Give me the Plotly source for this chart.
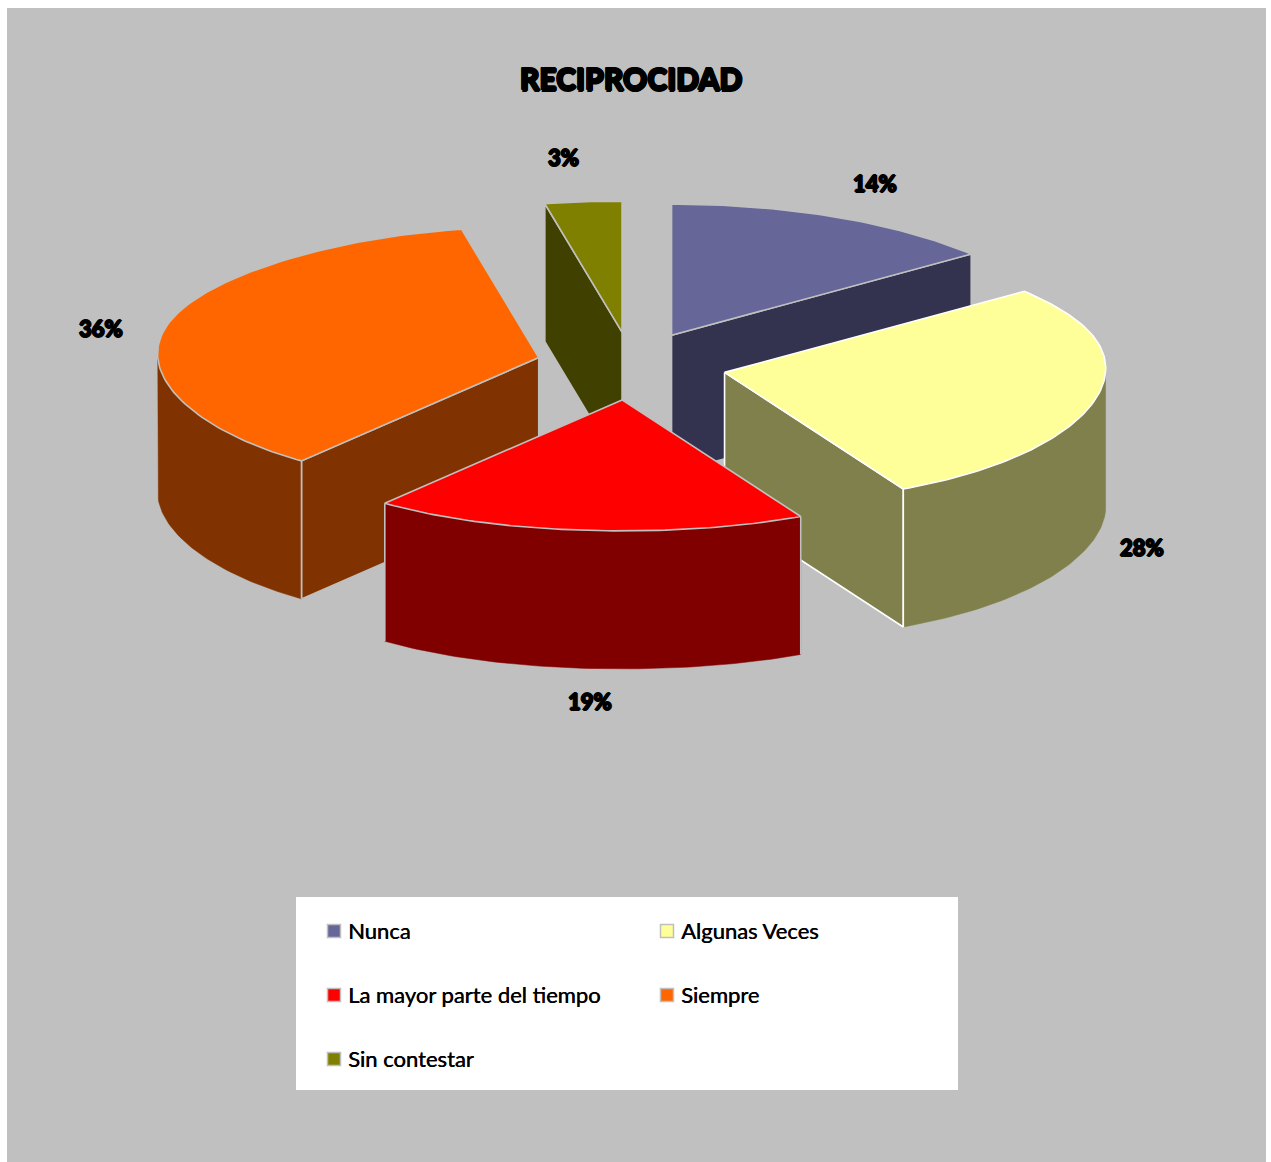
import math
import plotly.graph_objects as go

# Survey shares and their presentation
categories = ["Nunca", "Algunas Veces", "La mayor parte del tiempo", "Siempre", "Sin contestar"]
shares = [14, 28, 19, 36, 3]
top_colors = ["#666699", "#FFFF99", "#FF0000", "#FF6600", "#808000"]
face_colors = ["#333350", "#80804D", "#800000", "#803300", "#404000"]
edge_colors = ["#C0C0C0", "#FFFFFF", "#C0C0C0", "#C0C0C0", "#C0C0C0"]
title_text = "RECIPROCIDAD"

# Projection of the extruded pie, in page pixels
CX, CY = 631, 366
RX, RY = 381, 131
PERSPECTIVE = 0.03
FAR_FLARE = 0.06
SHOULDER_DROP = 2.5
EXPLODE_X, EXPLODE_Y = 0.25, 0.26
DEPTH = 138
DRAW_ORDER = [0, 4, 3, 1, 2]

# Where the percentage labels and legend rows sit
label_xy = [(875, 183), (1142, 547), (590, 701), (101, 328), (563, 157)]
legend_xy = [(334, 931), (667, 931), (334, 995), (667, 995), (334, 1059)]

PCT_FONT = dict(family="Lato", size=22, color="black", weight=900,
                shadow="1px 0 0 #000, -1px 0 0 #000, 0 1px 0 #000, 0 -1px 0 #000")
LEGEND_FONT = dict(family="Lato", size=22, color="black", shadow="0.4px 0 0 #000")


def rim(cx, cy, deg):
    a = math.radians(deg)
    c, s = math.cos(a), math.sin(a)
    rx = RX * (1 + PERSPECTIVE * c + FAR_FLARE * max(0.0, c) ** 8)
    return cx + rx * s, cy - RY * c + SHOULDER_DROP * (2 * s * c) ** 2


def arc(cx, cy, a0, a1, step=1.0):
    n = max(2, int(abs(a1 - a0) / step))
    return [rim(cx, cy, a0 + (a1 - a0) * i / n) for i in range(n + 1)]


def polygon(points, fill, edge=None, width=1.6):
    xs = [p[0] for p in points] + [points[0][0]]
    ys = [p[1] for p in points] + [points[0][1]]
    return go.Scatter(
        x=xs, y=ys, mode="lines", fill="toself", fillcolor=fill,
        line=dict(color=edge or fill, width=width if edge else 0.5),
        hoverinfo="skip", showlegend=False,
    )


def edge_line(p, color):
    return go.Scatter(
        x=[p[0], p[0]], y=[p[1], p[1] + DEPTH], mode="lines",
        line=dict(color=color, width=1.6), hoverinfo="skip", showlegend=False,
    )


# Cumulative slice angles, clockwise from twelve o'clock
total = sum(shares)
starts, ends, running = [], [], 0.0
for v in shares:
    starts.append(running * 360 / total)
    running += v
    ends.append(running * 360 / total)

fig = go.Figure()

for i in DRAW_ORDER:
    a0, a1 = starts[i], ends[i]
    mid = math.radians((a0 + a1) / 2)
    ax = CX + EXPLODE_X * RX * math.sin(mid)
    ay = CY - EXPLODE_Y * RY * math.cos(mid)
    face, top, edge = face_colors[i], top_colors[i], edge_colors[i]

    # radial faces turned toward the viewer
    for angle, visible in ((a0, 180 < a0 < 360), (a1, 0 < a1 < 180)):
        if visible:
            r = rim(ax, ay, angle)
            fig.add_trace(polygon([(ax, ay), r, (r[0], r[1] + DEPTH), (ax, ay + DEPTH)], face, edge))

    # outer wall on the near half of the rim
    w0, w1 = max(a0, 90), min(a1, 270)
    if w0 < w1:
        upper = arc(ax, ay, w0, w1)
        lower = [(x, y + DEPTH) for x, y in reversed(upper)]
        fig.add_trace(polygon(upper + lower, face))
        for angle in (a0, a1):
            if 90 < angle < 270:
                fig.add_trace(edge_line(rim(ax, ay, angle), edge))

    # top surface
    fig.add_trace(polygon([(ax, ay)] + arc(ax, ay, a0, a1), top, edge))

# Legend swatches
fig.add_trace(go.Scatter(
    x=[p[0] for p in legend_xy], y=[p[1] for p in legend_xy], mode="markers",
    marker=dict(symbol="square", size=13, color=top_colors, line=dict(color="#BFBFBF", width=1.5)),
    hoverinfo="skip", showlegend=False,
))

annotations = [dict(
    x=631, y=78, text=title_text, showarrow=False, xref="x", yref="y",
    font=dict(family="Lato", size=30, color="black", weight=900,
              shadow="1px 0 0 #000, -1px 0 0 #000, 0 1.5px 0 #000, 0 -1.5px 0 #000, 1px 1px 0 #000, -1px -1px 0 #000"),
)]
for (x, y), v in zip(label_xy, shares):
    annotations.append(dict(x=x, y=y, text=f"{v}%", showarrow=False, xref="x", yref="y", font=PCT_FONT))
for (x, y), name in zip(legend_xy, categories):
    annotations.append(dict(x=x + 12, y=y - 1, text=name, showarrow=False, xref="x", yref="y",
                            xanchor="left", font=LEGEND_FONT))

fig.update_layout(
    width=1271, height=1162, margin=dict(l=0, r=0, t=0, b=0, pad=0),
    paper_bgcolor="white", plot_bgcolor="white", showlegend=False,
    xaxis=dict(range=[0, 1271], visible=False, fixedrange=True),
    yaxis=dict(range=[1162, 0], visible=False, fixedrange=True),
    shapes=[
        dict(type="rect", x0=7, x1=1266, y0=8, y1=1162, fillcolor="#C0C0C0", line_width=0, layer="below"),
        dict(type="rect", x0=296, x1=958, y0=897, y1=1090, fillcolor="white", line_width=0, layer="below"),
    ],
    annotations=annotations,
)

fig.write_html("out.html", config=dict(displayModeBar=False))
